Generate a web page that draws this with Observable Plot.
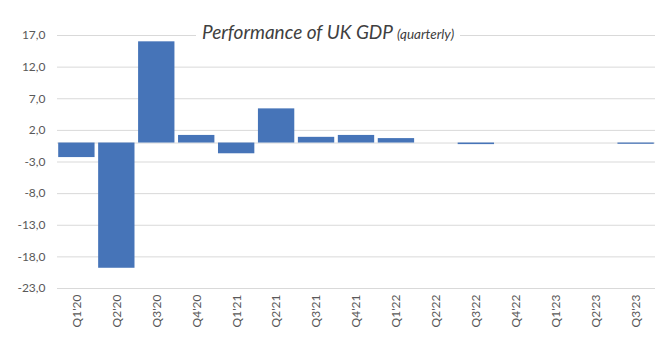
<!DOCTYPE html>
<html>
<head>
<meta charset="utf-8">
<script src="https://cdn.jsdelivr.net/npm/d3@7"></script>
<script src="https://cdn.jsdelivr.net/npm/@observablehq/plot@0.6"></script>
<style>
  html, body { margin: 0; padding: 0; background: #fff; }
  #wrap { position: relative; width: 670px; height: 353px; }
  #title {
    position: absolute; top: 20px; left: 196px;
    background: #fff; padding: 0 6px;
    font-family: Lato, "Open Sans", sans-serif; font-style: italic;
    color: #404040; font-size: 19px; line-height: 24px; white-space: nowrap;
  }
  #title small { font-size: 13.5px; }
</style>
</head>
<body>
<div id="wrap">
  <div id="chart"></div>
  <div id="title">Performance of UK GDP <small>(quarterly)</small></div>
</div>
<script>
const quarters = ["Q1'20","Q2'20","Q3'20","Q4'20","Q1'21","Q2'21","Q3'21","Q4'21","Q1'22","Q2'22","Q3'22","Q4'22","Q1'23","Q2'23","Q3'23"];
const growth   = [-2.3, -19.8, 16.0, 1.2, -1.7, 5.4, 0.9, 1.2, 0.7, 0.0, -0.25, 0.0, 0.0, 0.0, -0.2];
const yTicks   = [17, 12, 7, 2, -3, -8, -13, -18, -23];

const data = quarters.map((q, i) => ({quarter: q, value: growth[i]}));
const fmt = v => v.toFixed(1).replace(".", ",");

const chart = Plot.plot({
  width: 670,
  height: 353,
  marginLeft: 57,
  marginRight: 15,
  marginTop: 35,
  marginBottom: 65,
  style: {fontFamily: "Lato, 'Open Sans', sans-serif", fontSize: "12px", color: "#595959", background: "#fff"},
  x: {domain: quarters, paddingInner: 0.09, paddingOuter: 0.03, round: false, label: null, tickSize: 0, tickPadding: 6, tickRotate: -90},
  y: {domain: [-23, 17], ticks: yTicks, tickFormat: fmt, label: null, tickSize: 0, tickPadding: 12},
  marks: [
    Plot.ruleY(yTicks, {stroke: "#d9d9d9", strokeWidth: 1}),
    Plot.ruleY([0], {stroke: "#d9d9d9", strokeWidth: 1}),
    Plot.barY(data, {x: "quarter", y: "value", fill: "#4674b8"})
  ]
});
document.getElementById("chart").appendChild(chart);
</script>
</body>
</html>
